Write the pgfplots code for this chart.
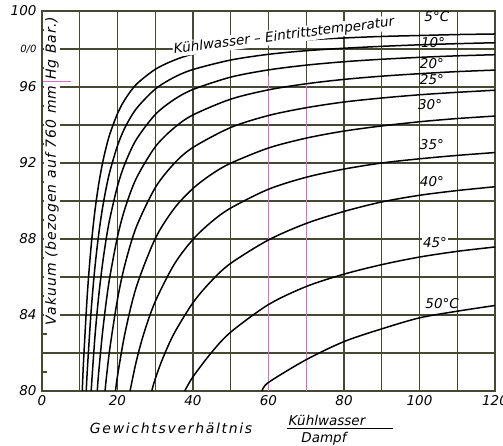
\documentclass[border=0pt]{standalone}
\usepackage{fontspec}
\setmainfont{DejaVu Sans}
\usepackage{pgfplots}
\pgfplotsset{compat=1.18}
\definecolor{gridc}{RGB}{70,72,52}
\definecolor{pinkc}{RGB}{214,110,200}
\newcommand{\lf}{\fontsize{13.5}{15}\selectfont\itshape}
\begin{document}
\begin{tikzpicture}
\begin{axis}[
  scale only axis, width=453pt, height=380pt,
  xmin=0, xmax=120, ymin=80, ymax=100,
  clip=false,
  xtick={0,10,...,120},
  xticklabels={0,,20,,40,,60,,80,,100,,120},
  ytick={80,82,...,100},
  yticklabels={80,,84,,88,,92,,96,{\fontsize{10}{10}\selectfont\itshape 0/0},100},
  minor ytick={81,83,...,99},
  xtick pos=bottom, ytick pos=left,
  grid=major,
  major grid style={gridc, line width=1.1pt},
  tick style={gridc, line width=1.1pt},
  major tick length=0pt, minor tick length=5pt,
  tick align=inside,
  axis line style={gridc, line width=1.5pt},
  tick label style={font=\lf},
  xticklabel style={yshift=-1pt},
  yticklabel style={xshift=-2pt},
]
% pink marks
\addplot[pinkc, line width=1pt] coordinates {(60,96.6) (60,80)};
\addplot[pinkc, line width=1pt] coordinates {(70,96.26) (70,80)};

% 5 C
\addplot[black, line width=1.5pt, smooth] coordinates {(10.67,80) (11,81.55) (12,85.07) (13,87.59) (14,89.45) (15,90.86) (16,91.96) (17,92.83) (18,93.54) (20,94.60) (22,95.35) (25,96.14) (30,96.93) (35,97.41) (40,97.73) (50,98.11) (60,98.34) (70,98.48) (80,98.58) (90,98.66) (100,98.71) (110,98.76) (120,98.79)};
% 10 C
\addplot[black, line width=1.5pt, smooth] coordinates {(11.73,80) (12,81.09) (13,84.18) (14,86.47) (15,88.22) (16,89.59) (17,90.68) (18,91.57) (20,92.91) (22,93.87) (25,94.86) (30,95.89) (35,96.51) (40,96.92) (50,97.42) (60,97.72) (70,97.91) (80,98.04) (90,98.14) (100,98.22) (110,98.28) (120,98.33)};
% 15 C
\addplot[black, line width=1.5pt, smooth] coordinates {(13.02,80) (14,82.8) (15,84.96) (16,86.64) (17,88.0) (18,89.1) (20,90.78) (22,91.98) (25,93.24) (30,94.55) (35,95.34) (40,95.87) (50,96.52) (60,96.90) (70,97.15) (80,97.33) (90,97.46) (100,97.56) (110,97.64) (120,97.70)};
% 20 C
\addplot[black, line width=1.5pt, smooth] coordinates {(14.64,80) (15,80.94) (16,83.01) (17,84.68) (18,86.04) (20,88.12) (22,89.62) (25,91.2) (30,92.85) (35,93.85) (40,94.53) (50,95.36) (60,95.85) (70,96.17) (80,96.40) (90,96.57) (100,96.70) (110,96.81) (120,96.89)};
% 25 C
\addplot[black, line width=1.5pt, smooth] coordinates {(16.71,80) (17,80.6) (18,82.28) (20,84.83) (22,86.68) (25,88.64) (30,90.70) (35,91.97) (40,92.82) (50,93.87) (60,94.50) (70,94.91) (80,95.21) (90,95.42) (100,95.59) (110,95.72) (120,95.83)};
% 30 C
\addplot[black, line width=1.5pt, smooth] coordinates {(19.47,80) (20,80.79) (22,83.06) (25,85.48) (30,88.02) (35,89.60) (40,90.66) (45,91.42) (50,91.99) (60,92.79) (70,93.31) (80,93.68) (90,93.95) (100,94.17) (110,94.34) (120,94.47)};
% 35 C
\addplot[black, line width=1.5pt, smooth] coordinates {(23.32,80) (25,81.58) (27,83.04) (30,84.71) (35,86.66) (40,87.98) (45,88.92) (50,89.63) (60,90.62) (70,91.25) (80,91.68) (90,92.0) (100,92.22) (110,92.4) (120,92.55)};
% 40 C
\addplot[black, line width=1.5pt, smooth] coordinates {(29.06,80) (30,80.64) (32,81.72) (35,83.03) (40,84.65) (45,85.82) (50,86.72) (60,87.95) (70,88.82) (80,89.45) (90,89.95) (100,90.3) (110,90.55) (120,90.75)};
% 45 C
\addplot[black, line width=1.5pt, smooth] coordinates {(37.8,80) (40,80.75) (45,82.05) (50,83.1) (60,84.55) (70,85.5) (80,86.15) (90,86.65) (100,87.05) (110,87.35) (120,87.58)};
% 50 C
\addplot[black, line width=1.5pt, smooth] coordinates {(58.3,80) (60,80.45) (70,81.65) (80,82.6) (90,83.27) (100,83.85) (110,84.2) (120,84.5)};

% curve labels
\node[font=\lf] at (axis cs:104.6,99.68) {5°C};
\node[font=\lf] at (axis cs:103.6,98.35) {10°};
\node[font=\lf] at (axis cs:103.3,97.21) {20°};
\node[font=\lf] at (axis cs:103.3,96.37) {25°};
\node[font=\lf] at (axis cs:102.8,95.1) {30°};
\node[font=\lf] at (axis cs:103.3,92.95) {35°};
\node[font=\lf] at (axis cs:103.3,91.0) {40°};
\node[font=\lf, fill=white, inner sep=1pt] at (axis cs:104.1,87.79) {45°};
\node[font=\lf] at (axis cs:106,84.58) {50°C};

\node[font=\lf, rotate=7, fill=white, inner sep=1pt] at (axis cs:64.1,98.68) {Kühlwasser – Eintrittstemperatur};

% y label inside the axis
\node[font=\fontsize{14}{16}\selectfont\itshape\addfontfeatures{LetterSpace=8}, rotate=90, fill=white, inner sep=1pt] at (axis cs:2.65,91.58) {Vakuum (bezogen auf 760 mm Hg Bar.)};
\addplot[pinkc, line width=0.8pt] coordinates {(0.3,96.3) (7.6,96.3)};

% x label
\node[font=\fontsize{14}{16}\selectfont\itshape\addfontfeatures{LetterSpace=12}] at (axis cs:34.2,78.05) {Gewichtsverhältnis};
\node[font=\lf, inner sep=0pt] at (axis cs:75.5,78.47) {Kühlwasser};
\draw[black, line width=0.9pt] (axis cs:64.9,78.05) -- (axis cs:93.0,78.05);
\node[font=\lf, inner sep=0pt] at (axis cs:74.7,77.47) {Dampf};
\end{axis}
\pgfresetboundingbox
\useasboundingbox ([shift={(-42pt,-55pt)}]current axis.south west) rectangle ([shift={(8pt,11pt)}]current axis.north east);
\end{tikzpicture}
\end{document}
